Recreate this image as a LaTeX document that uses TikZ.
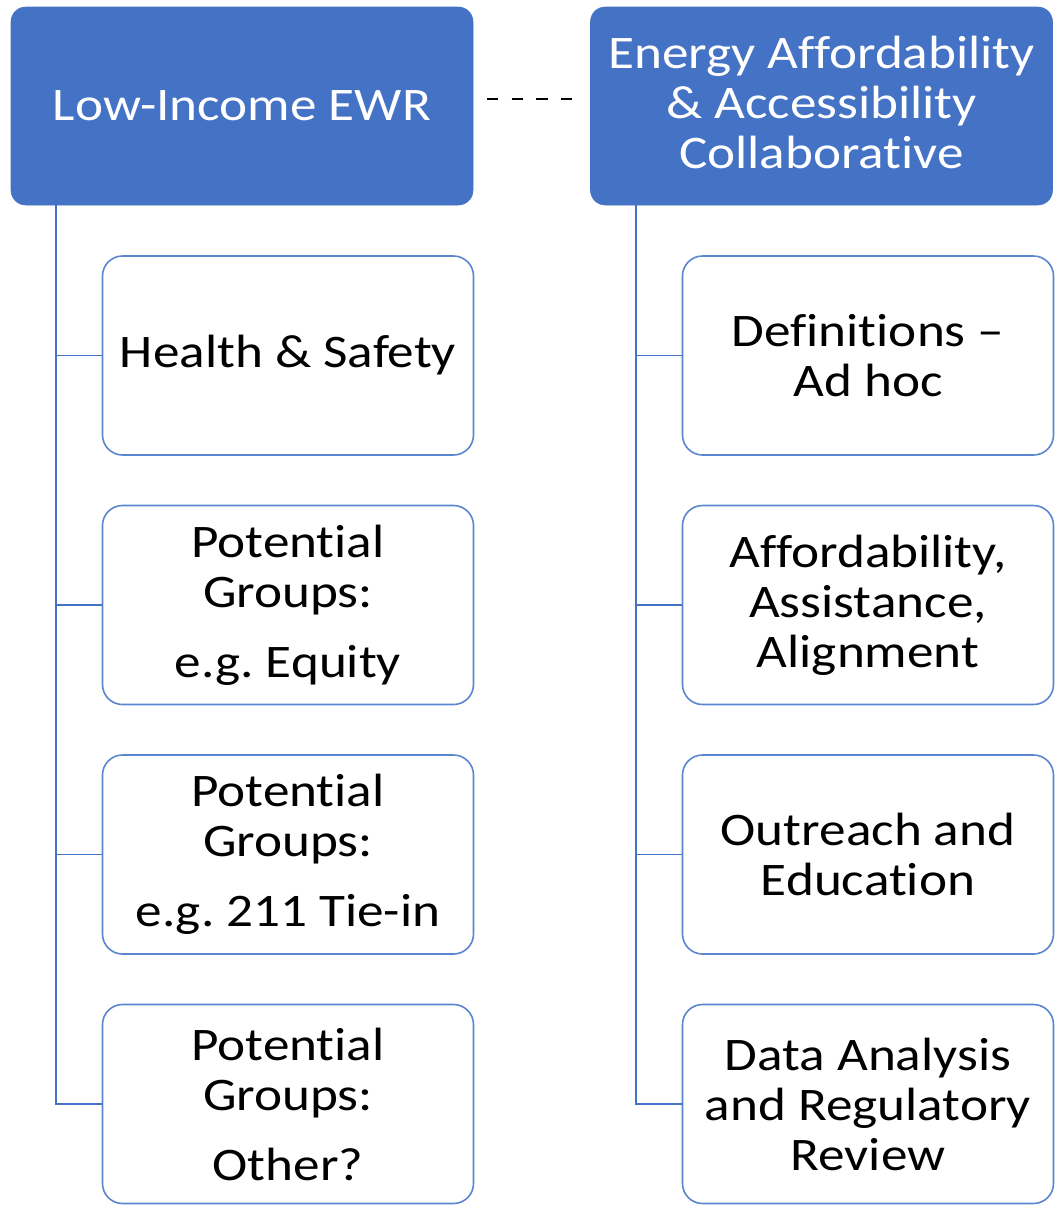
\documentclass[tikz,border=0pt]{standalone}
\usepackage{fontspec}
\setmainfont{Carlito}[FakeStretch=1.14,Ligatures={NoCommon}]
\frenchspacing
\definecolor{hdr}{HTML}{4472C4}
\definecolor{cbord}{HTML}{5B86CF}
\begin{document}
\begin{tikzpicture}[x=0.75pt,y=-0.75pt,
  header/.style={draw=hdr,fill=hdr,rounded corners=11pt,minimum width=462*0.75pt,minimum height=198*0.75pt,
     text=white,align=center,inner sep=0pt,font=\fontsize{35}{37.5}\selectfont},
  child/.style={draw=cbord,line width=1.2pt,fill=white,rounded corners=15pt,minimum width=371*0.75pt,minimum height=199*0.75pt,
     text=black,align=center,inner sep=0pt,font=\fontsize{35}{37.5}\selectfont},
  conn/.style={draw=hdr,line width=1.4pt}]
\useasboundingbox (0,0) rectangle (1063,1211);
\fill[white] (0,0) rectangle (1063,1211);
% headers
\node[header] (lh) at (242,106) {Low-Income EWR};
\node[header] (rh) at (821.5,106) {};
\node[white,align=center,inner sep=0pt,font=\fontsize{35}{37.5}\selectfont] (rht) at (821.5,102) {Energy Affordability\\\& Accessibility\\Collaborative};
% left children
\node[child] (l1) at (288,355.5) {Health \& Safety};
\node[child] (l2) at (288,605) {Potential\\Groups:\\[15pt]e.g. Equity};
\node[child] (l3) at (288,854.5) {Potential\\Groups:\\[15pt]e.g. 211 Tie-in};
\node[child] (l4) at (288,1104) {Potential\\Groups:\\[15pt]Other?};
% right children
\node[child] (r1) at (868,355.5) {Definitions –\\Ad hoc};
\node[child] (r2) at (868,605) {Affordability,\\Assistance,\\Alignment};
\node[child] (r3) at (868,854.5) {Outreach and\\Education};
\node[child] (r4) at (868,1104) {Data Analysis\\and Regulatory\\Review};
% dashed link
\coordinate (d1) at (487,99);
\coordinate (d2) at (577,99);
\draw[black,line width=2.2pt,dash pattern=on 8.5pt off 10pt] (d1) -- (d2);
% connectors
\coordinate (lt) at (56,205);
\coordinate (rt) at (636,205);
\draw[conn] (lt) |- (l4.west);
\foreach \n in {l1,l2,l3} \draw[conn] (lt |- \n.west) -- (\n.west);
\draw[conn] (rt) |- (r4.west);
\foreach \n in {r1,r2,r3} \draw[conn] (rt |- \n.west) -- (\n.west);
\end{tikzpicture}
\end{document}
